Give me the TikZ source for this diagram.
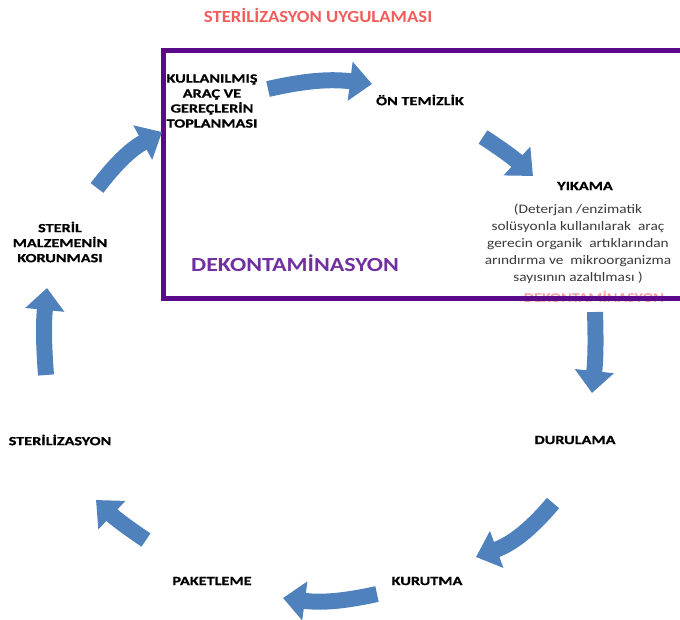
\documentclass[tikz,border=0pt]{standalone}
\usepackage{fontspec}
\setmainfont{Carlito}
\newfontfamily\etiketfont[FakeStretch=1.3, FakeBold=0.8]{Carlito}
\newfontfamily\notfont[FakeStretch=1.18]{Carlito}
\newfontfamily\dekonfont[FakeStretch=1.2]{Carlito}
\newfontfamily\baslikfont[FakeStretch=1.1]{Carlito}
\usepackage{xcolor}
\usepackage{tikz}
\usetikzlibrary{arrows.meta, positioning}
\definecolor{okmavi}{HTML}{4F81BD}
\definecolor{cercevemor}{HTML}{5A0A8A}
\definecolor{yazimor}{HTML}{7030A0}
\definecolor{baslikkirmizi}{HTML}{F45B5B}
\definecolor{aciklamagri}{HTML}{3A3A3A}
\tikzset{
    textnode/.style = {draw=none, fill=none, rectangle, inner sep=0em, align=center,
      font=\etiketfont\bfseries\fontsize{12.5}{15}\selectfont},
    notenode/.style = {draw=none, fill=none, rectangle, inner sep=0em, align=center,
      text=aciklamagri, font=\notfont\fontsize{13}{17}\selectfont},
    cyclearrow/.style = {draw=okmavi, line width=16pt, line cap=butt,
      -{Triangle[length=22pt, width=38pt]}},
    frame/.style = {draw=cercevemor, line width=5pt}
}

\begin{document}
\begin{tikzpicture}[x=1pt, y=-1pt]
\clip (0,0) rectangle (680,619);
\useasboundingbox (0,0) rectangle (680,619);

\node [textnode, name=Baslik, text=baslikkirmizi, font=\baslikfont\bfseries\fontsize{17}{20}\selectfont] at (318,15) {STERİLİZASYON UYGULAMASI};

% ghost label, mostly under the frame
\node [textnode, name=Golge, text=baslikkirmizi!60, font=\dekonfont\bfseries\fontsize{13.5}{16}\selectfont] at (594,297) {DEKONTAMİNASYON};

\draw [frame] (163,50.5) rectangle (700,298);
\node [textnode, name=Dekon, text=yazimor, font=\dekonfont\bfseries\fontsize{20}{24}\selectfont] at (295,263) {DEKONTAMİNASYON};

\node [textnode, name=Toplama] at (212,101) {KULLANILMIŞ\\ARAÇ VE\\GEREÇLERİN\\TOPLANMASI};
\node [textnode, name=OnTemizlik] at (420,100) {ÖN TEMİZLİK};
\node [textnode, name=Yikama] at (585,186) {YIKAMA};
\node [notenode, name=YikamaNot] at (578,244) {(Deterjan /enzimatik\\solüsyonla kullanılarak\ \ araç\\gerecin organik\ \ artıklarından\\arındırma ve\ \ mikroorganizma\\sayısının azaltılması )};
\node [textnode, name=Durulama] at (575,440) {DURULAMA};
\node [textnode, name=Kurutma] at (427,581) {KURUTMA};
\node [textnode, name=Paketleme] at (212,581) {PAKETLEME};
\node [textnode, name=Sterilizasyon] at (60,440) {STERİLİZASYON};
\node [textnode, name=Korunma] at (60,242) {STERİL\\MALZEMENİN\\KORUNMASI};

% arrow ends
\coordinate (t1) at (268,89);  \coordinate (h1) at (372,84);
\coordinate (t2) at (483,137); \coordinate (h2) at (533,176);
\coordinate (t3) at (595,312); \coordinate (h3) at (592,393);
\coordinate (t4) at (553,503); \coordinate (h4) at (476,557);
\coordinate (t5) at (377,594); \coordinate (h5) at (283,598);
\coordinate (t6) at (146,540); \coordinate (h6) at (96,500);
\coordinate (t7) at (46,375);  \coordinate (h7) at (47,288);
\coordinate (t8) at (97,188);  \coordinate (h8) at (162,132);

\draw [cyclearrow] (t1) to[bend left=10] (h1);
\draw [cyclearrow] (t2) to[bend left=5] (h2);
\draw [cyclearrow] (t3) to[bend left=4] (h3);
\draw [cyclearrow] (t4) to[bend left=15] (h4);
\draw [cyclearrow] (t5) to[bend left=10] (h5);
\draw [cyclearrow] (t6) to[bend left=5] (h6);
\draw [cyclearrow] (t7) to[bend left=5] (h7);
\draw [cyclearrow] (t8) to[bend left=12] (h8);

\end{tikzpicture}
\end{document}
